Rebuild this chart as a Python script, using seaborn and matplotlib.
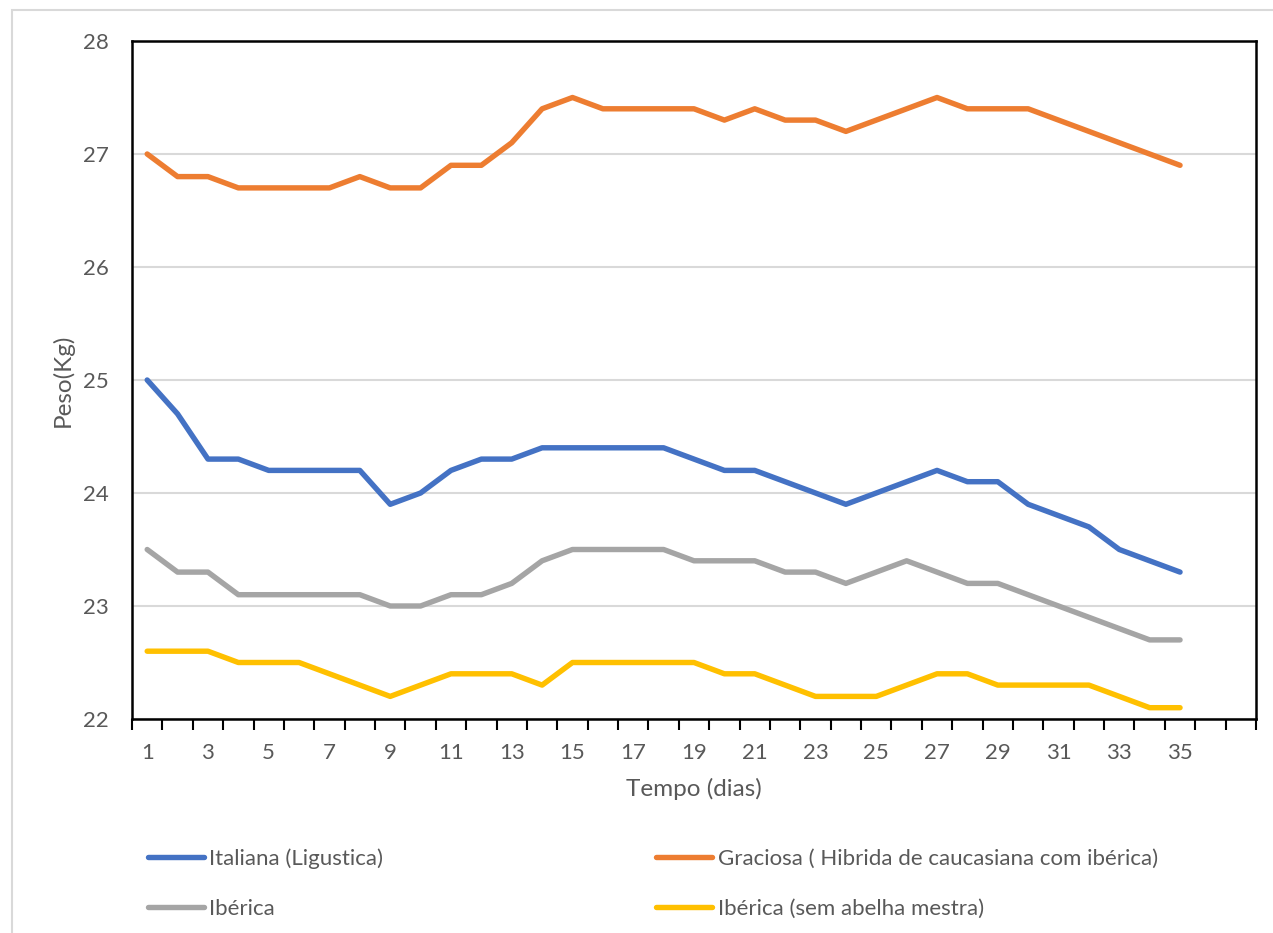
import numpy as np
import pandas as pd
import matplotlib
matplotlib.use("Agg")
import matplotlib.pyplot as plt
import seaborn as sns
from matplotlib.patches import Rectangle

days = list(range(1, 36))
italiana = [25.0, 24.7, 24.3, 24.3, 24.2, 24.2, 24.2, 24.2, 23.9, 24.0, 24.2, 24.3, 24.3, 24.4, 24.4,
            24.4, 24.4, 24.4, 24.3, 24.2, 24.2, 24.1, 24.0, 23.9, 24.0, 24.1, 24.2, 24.1, 24.1, 23.9,
            23.8, 23.7, 23.5, 23.4, 23.3]
graciosa = [27.0, 26.8, 26.8, 26.7, 26.7, 26.7, 26.7, 26.8, 26.7, 26.7, 26.9, 26.9, 27.1, 27.4, 27.5,
            27.4, 27.4, 27.4, 27.4, 27.3, 27.4, 27.3, 27.3, 27.2, 27.3, 27.4, 27.5, 27.4, 27.4, 27.4,
            27.3, 27.2, 27.1, 27.0, 26.9]
iberica = [23.5, 23.3, 23.3, 23.1, 23.1, 23.1, 23.1, 23.1, 23.0, 23.0, 23.1, 23.1, 23.2, 23.4, 23.5,
           23.5, 23.5, 23.5, 23.4, 23.4, 23.4, 23.3, 23.3, 23.2, 23.3, 23.4, 23.3, 23.2, 23.2, 23.1,
           23.0, 22.9, 22.8, 22.7, 22.7]
iberica_sem = [22.6, 22.6, 22.6, 22.5, 22.5, 22.5, 22.4, 22.3, 22.2, 22.3, 22.4, 22.4, 22.4, 22.3, 22.5,
               22.5, 22.5, 22.5, 22.5, 22.4, 22.4, 22.3, 22.2, 22.2, 22.2, 22.3, 22.4, 22.4, 22.3, 22.3,
               22.3, 22.3, 22.2, 22.1, 22.1]
series_names = ["Italiana (Ligustica)", "Graciosa ( Hibrida de caucasiana com ibérica)",
                "Ibérica", "Ibérica (sem abelha mestra)"]
colors = ["#4472C4", "#ED7D31", "#A5A5A5", "#FFC000"]
x_ticks = list(range(1, 36, 2))
y_ticks = [22, 23, 24, 25, 26, 27, 28]

frames = []
for name, vals in zip(series_names, [italiana, graciosa, iberica, iberica_sem]):
    frames.append(pd.DataFrame({"Dia": days, "Peso": vals, "Serie": name}))
df = pd.concat(frames, ignore_index=True)

sns.set_style("white")
plt.rcParams["font.family"] = ["Lato", "DejaVu Sans"]
txt = "#595959"

fig = plt.figure(figsize=(12.73, 9.33), dpi=100)
ax = fig.add_axes([132/1273, 1-719/933, (1256-132)/1273, (719-41)/933])

sns.lineplot(data=df, x="Dia", y="Peso", hue="Serie", hue_order=series_names,
             palette=colors, linewidth=3.9, ax=ax, legend=False,
             solid_capstyle="round", solid_joinstyle="round")

ax.set_xlim(0.5, 37.5)
ax.set_ylim(22, 28)
ax.set_yticks(y_ticks)
ax.set_yticklabels([str(v) for v in y_ticks])
ax.set_xticks(x_ticks)
ax.set_xticklabels([str(v) for v in x_ticks])
ax.set_xticks(np.arange(0.5, 38, 1.0), minor=True)
ax.tick_params(axis="x", which="major", length=0, pad=17, labelsize=16, labelcolor=txt)
ax.tick_params(axis="x", which="minor", length=8, width=1.5, color="black", direction="out", bottom=True)
ax.tick_params(axis="y", which="major", length=0, pad=17, labelsize=16, labelcolor=txt)
ax.yaxis.grid(True, color="#D9D9D9", linewidth=1.5)
ax.xaxis.grid(False)
ax.set_axisbelow(True)
for s in ax.spines.values():
    s.set_visible(True)
    s.set_color("black")
    s.set_linewidth(1.8)

ax.set_xlabel("Tempo (dias)", fontsize=17.5, color=txt, va="center")
ax.set_ylabel("Peso(Kg)", fontsize=17.5, color=txt, va="center")
ax.xaxis.set_label_coords((694-132)/1124, -(789-719)/678)
ax.yaxis.set_label_coords(-(132-63)/1124, (719-380)/678)

order = [0, 2, 1, 3]
handles = [plt.Line2D([], [], color=colors[i], linewidth=3.9, solid_capstyle="round") for i in order]
labels = [series_names[i] for i in order]
leg = fig.legend(handles, labels, loc="upper left", ncol=2,
                 bbox_to_anchor=(148/1273, 1-848/933), frameon=False,
                 fontsize=16, handlelength=2.5, handletextpad=0.25,
                 columnspacing=12.3, labelspacing=1.35, borderaxespad=0, borderpad=0)
for t in leg.get_texts():
    t.set_color(txt)

fig.patches.append(Rectangle((12/1273, -0.1), 1.2, 1-10/933+0.1, transform=fig.transFigure,
                             fill=False, edgecolor="#D9D9D9", linewidth=1.5, zorder=-10))

fig.savefig("out.png", dpi=100)
